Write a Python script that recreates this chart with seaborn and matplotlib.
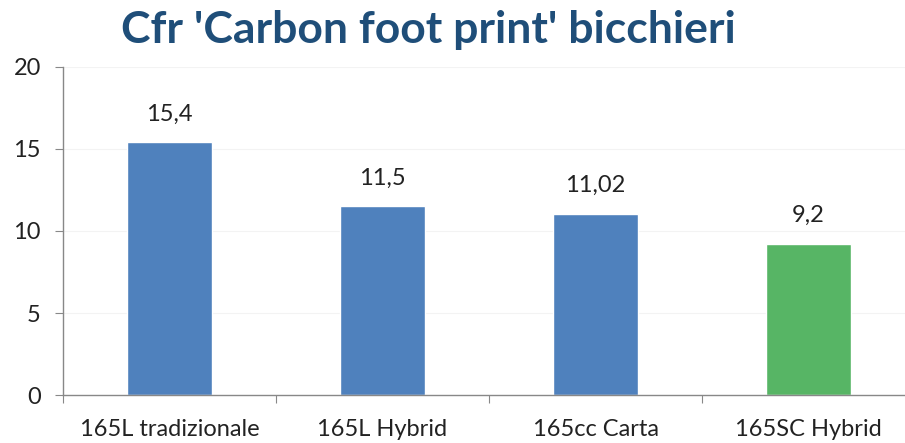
import matplotlib
matplotlib.use("Agg")
import matplotlib.pyplot as plt
import seaborn as sns

categories = ["165L tradizionale", "165L Hybrid", "165cc Carta", "165SC Hybrid"]
values = [15.4, 11.5, 11.02, 9.2]
value_labels = ["15,4", "11,5", "11,02", "9,2"]
bar_colors = ["#4F81BD", "#4F81BD", "#4F81BD", "#57B565"]
y_ticks = [0, 5, 10, 15, 20]

sns.set_style("white")
plt.rcParams["font.family"] = ["Lato", "DejaVu Sans"]

fig = plt.figure(figsize=(9.05, 4.43), dpi=100)
ax = fig.add_axes([63 / 905, 1 - 395 / 443, 852 / 905, 328 / 443])

sns.barplot(x=categories, y=values, hue=categories, palette=bar_colors,
            width=0.4, legend=False, ax=ax, saturation=1)

for i, (v, lab) in enumerate(zip(values, value_labels)):
    ax.text(i, v + 1.1, lab, ha="center", va="bottom", fontsize=17, color="#222222")

ax.set_xlim(-0.5, 3.5)
ax.set_ylim(0, 20)
ax.set_yticks(y_ticks)
ax.set_yticklabels([str(t) for t in y_ticks], fontsize=17, color="#222222")
for t in y_ticks[1:]:
    ax.axhline(t, color="#f3f3f3", lw=0.8, zorder=0)

# category ticks on the boundaries, labels centered
ax.set_xticks([-0.5, 0.5, 1.5, 2.5, 3.5])
ax.set_xticklabels([])
ax.set_xticks(range(4), minor=True)
ax.set_xticklabels(categories, minor=True, fontsize=17, color="#222222")
ax.tick_params(axis="x", which="minor", length=0, pad=17)
ax.tick_params(axis="x", which="major", length=6, color="#888888", direction="out", bottom=True)
ax.tick_params(axis="y", length=6, color="#888888", direction="out", left=True, pad=10)
ax.set_xlabel("")
ax.set_ylabel("")

sns.despine(ax=ax, top=True, right=True)
for s in ["left", "bottom"]:
    ax.spines[s].set_color("#888888")
    ax.spines[s].set_linewidth(1)

fig.text(428 / 905, 1 - 30 / 443, "Cfr 'Carbon foot print' bicchieri", ha="center", va="center",
         fontsize=32, fontweight="bold", color="#1F4E79")

fig.savefig("out.png", dpi=100)
